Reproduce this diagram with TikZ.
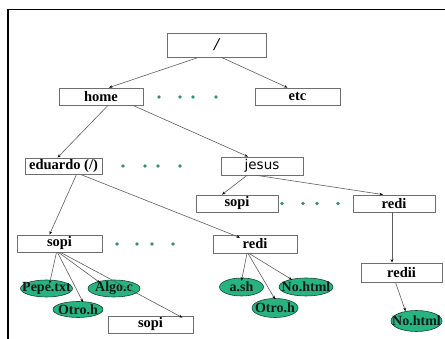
\documentclass[tikz,border=0pt]{standalone}
\usepackage{fontspec}
\setmainfont{Liberation Serif}
\newfontfamily\jsans{DejaVu Sans}
\usetikzlibrary{arrows.meta,shapes.geometric}
\definecolor{boxline}{RGB}{110,110,110}
\definecolor{filefill}{RGB}{40,180,128}
\definecolor{fileline}{RGB}{20,70,50}
\definecolor{dotcol}{RGB}{60,140,115}
\definecolor{arrcol}{RGB}{95,95,95}
\tikzset{
  dirbox/.style={draw=boxline,line width=0.8pt,fill=white,rectangle,inner sep=0pt,
    font=\fontsize{14.5}{15}\selectfont\bfseries},
  filenode/.style={draw=fileline,line width=0.6pt,fill=filefill,ellipse,inner sep=0pt},
  filetext/.style={inner sep=0pt,font=\fontsize{14}{15}\selectfont\bfseries, text=black!90},
  conn/.style={draw=arrcol,line width=0.6pt,-{Stealth[length=3.5pt,width=2.6pt,black]}},
  gdot/.style={fill=dotcol,draw=none},
}
\begin{document}
\begin{tikzpicture}[x=1pt,y=-1pt]
\useasboundingbox (0,0) rectangle (445,339);
\fill[white] (0,0) rectangle (445,339);
% frame
\draw[black,line width=1.4pt] (8,339) -- (8,9.5) -- (445,9.5);

% directory boxes
\node[dirbox,minimum width=99pt,minimum height=24pt,font=\fontsize{18}{18}\selectfont\bfseries\itshape] (root) at (216.5,45) {/};
\node[dirbox,minimum width=84pt,minimum height=17pt] (home) at (101,96.5) {home};
\node[dirbox,minimum width=85pt,minimum height=17pt] (etc) at (297.5,96.5) {etc};
\node[dirbox,minimum width=77pt,minimum height=16pt] (edu) at (63.5,166) {eduardo (/)};
\node[dirbox,minimum width=82pt,minimum height=18pt,font=\jsans\fontsize{13.5}{14}\selectfont] (jesus) at (262,166) {jesus};
\node[dirbox,minimum width=82pt,minimum height=17pt] (sopiR) at (237,203.5) {sopi};
\node[dirbox,minimum width=82pt,minimum height=17pt] (rediR) at (394,203.5) {redi};
\node[dirbox,minimum width=85pt,minimum height=17pt] (sopiL) at (59.5,243.5) {sopi};
\node[dirbox,minimum width=84pt,minimum height=18pt] (rediM) at (255,244) {redi};
\node[dirbox,minimum width=81pt,minimum height=19pt] (redii) at (401.5,272.5) {redii};
\node[dirbox,minimum width=85pt,minimum height=17pt] (sopiB) at (150.5,324.5) {sopi};

% files
\node[filenode,minimum width=52pt,minimum height=17pt,label={[filetext]center:Pepe.txt}] (pepe) at (46.5,288.5) {};
\node[filenode,minimum width=52pt,minimum height=17pt,label={[filetext]center:Algo.c}] (algo) at (114,288.5) {};
\node[filenode,minimum width=50pt,minimum height=16pt,label={[filetext]center:Otro.h}] (otroL) at (78,309.5) {};
\node[filenode,minimum width=44pt,minimum height=18pt,label={[filetext]center:a.sh}] (ash) at (241.5,287) {};
\node[filenode,minimum width=54pt,minimum height=18pt,label={[filetext]center:No.html}] (nohtml) at (306,287) {};
\node[filenode,minimum width=46pt,minimum height=19pt,label={[filetext]center:Otro.h}] (otroM) at (275,308) {};
\node[filenode,minimum width=51pt,minimum height=21pt,label={[filetext]center:No.html}] (nohtmlR) at (416.5,321) {};

% dots
\foreach \x in {159,180,193,216} \fill[gdot] (\x,97) circle (1.8pt);
\foreach \x in {123,145,158,180} \fill[gdot] (\x,166) circle (1.8pt);
\foreach \x in {282,303,317,338} \fill[gdot] (\x,203.5) circle (1.8pt);
\foreach \x in {117,137,152,173} \fill[gdot] (\x,244) circle (1.8pt);

% connectors
\draw[conn] ([xshift=-18pt]root.south) -- ([xshift=8pt]home.north);
\draw[conn] ([xshift=5pt]root.south) -- ([xshift=-10pt]etc.north);
\draw[conn] ([xshift=7pt]home.south) -- ([xshift=-6pt]edu.north);
\draw[conn] ([xshift=32pt]home.south) -- ([xshift=-14pt]jesus.north);
\draw[conn] ([xshift=13pt]edu.south) -- ([xshift=-10pt]sopiL.north);
\draw[conn] ([xshift=17pt]edu.south) -- ([xshift=-15pt,yshift=-3pt]rediM.north);
\draw[conn] ([xshift=-15pt]jesus.south) -- ([xshift=-15pt]sopiR.north);
\draw[conn] ([xshift=-5pt]jesus.south) -- ([xshift=-11pt]rediR.north);
\draw[conn] ([xshift=-2pt]rediR.south) -- ([xshift=-9.5pt]redii.north);
\draw[conn] ([xshift=-3pt]sopiL.south) -- ([xshift=3pt,yshift=-4pt]pepe.north);
\draw[conn] ([xshift=-2pt]sopiL.south) -- ([xshift=5pt,yshift=-1pt]otroL.north);
\draw[conn] ([xshift=-1pt]sopiL.south) -- ([xshift=-14pt,yshift=-3pt]algo.north);
\draw[conn] ([xshift=1pt]sopiL.south) -- ([xshift=-11pt,yshift=-2pt]sopiB.north east);
\draw[conn] ([xshift=-8pt]rediM.south) -- ([yshift=-3pt]ash.north);
\draw[conn] ([xshift=-7pt]rediM.south) -- ([yshift=-1pt]otroM.north);
\draw[conn] ([xshift=-6pt]rediM.south) -- ([xshift=-14pt,yshift=-2pt]nohtml.north);
\draw[conn] ([xshift=-6pt]redii.south) -- ([xshift=-11pt,yshift=-1pt]nohtmlR.north);
\end{tikzpicture}
\end{document}
